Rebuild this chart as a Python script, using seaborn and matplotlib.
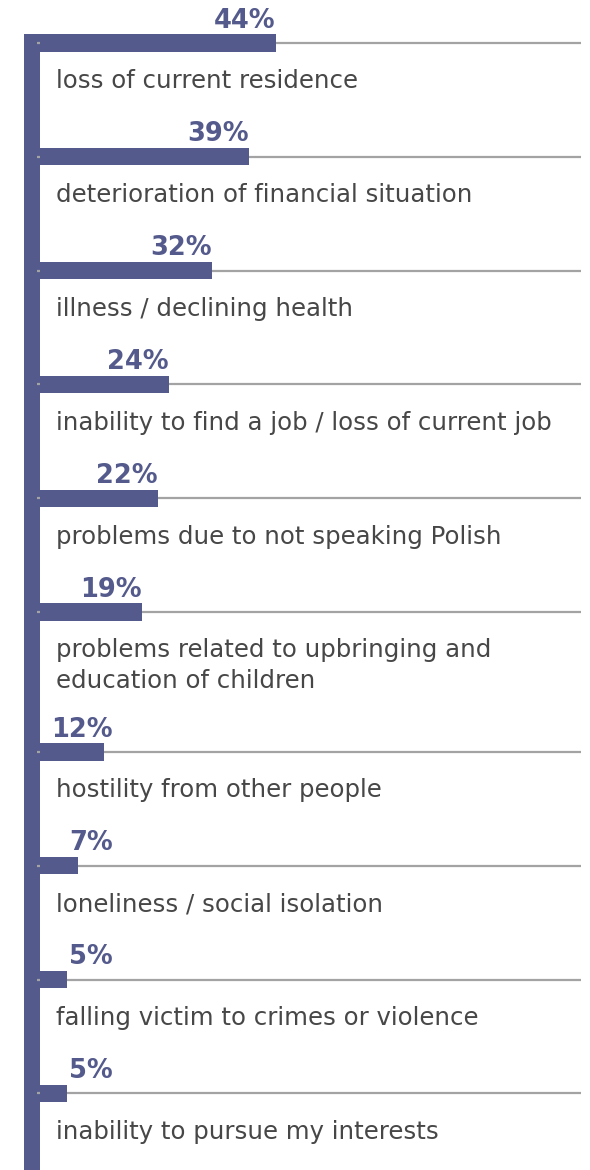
import numpy as np
import pandas as pd
import seaborn as sns
import matplotlib.pyplot as plt

# data
labels = ['loss of current residence',
          'deterioration of financial situation',
          'illness / declining health',
          'inability to find a job / loss of current job',
          'problems due to not speaking Polish',
          'problems related to upbringing and\neducation of children',
          'hostility from other people',
          'loneliness / social isolation',
          'falling victim to crimes or violence',
          'inability to pursue my interests']
values = [44, 39, 32, 24, 22, 19, 12, 7, 5, 5]

BAR = '#545b8c'
TXT = '#474747'
LINE = '#a3a3a3'

# row positions: a two-line label pushes the next row down a bit
pos = []
y = 0.0
for i, lab in enumerate(labels):
    pos.append(y)
    y += 1 + 0.23 * lab.count('\n')

df = pd.DataFrame({'label': labels, 'value': values, 'pos': pos})

sns.set_theme(style='white')
plt.rcParams['font.family'] = ['DejaVu Sans']

fig = plt.figure(figsize=(5.9, 11.7), dpi=100)
ax = fig.add_axes([0, 0, 1, 1])

# thin grey rules
ax.hlines(df['pos'], -0.6, 100.9, color=LINE, lw=1.6, zorder=2)

sns.barplot(data=df, x='value', y='pos', orient='h', native_scale=True,
            color=BAR, saturation=1, width=0.15, errorbar=None,
            linewidth=0, ax=ax, zorder=3)

# thick vertical spine on the left
ax.fill_betweenx([-0.075, 20], -2.99, 0, color=BAR, lw=0, zorder=1)

for _, r in df.iterrows():
    # small values keep their label clear of the spine
    xr = max(r['value'], 13.6)
    ax.text(xr, r['pos'] - 0.135, f"{r['value']}%", ha='right',
            va='baseline', fontsize=18.5, fontweight='bold', color=BAR, zorder=4)
    ax.text(3.0, r['pos'] + 0.232, r['label'], ha='left', va='top',
            fontsize=17.6, color=TXT, linespacing=1.35, zorder=4)

ax.set_xlim(-40 / 5.36, 550 / 5.36)
ax.set_ylim(1127 / 113.8, -43 / 113.8)
ax.set_axis_off()

fig.savefig('out.png', dpi=100)
